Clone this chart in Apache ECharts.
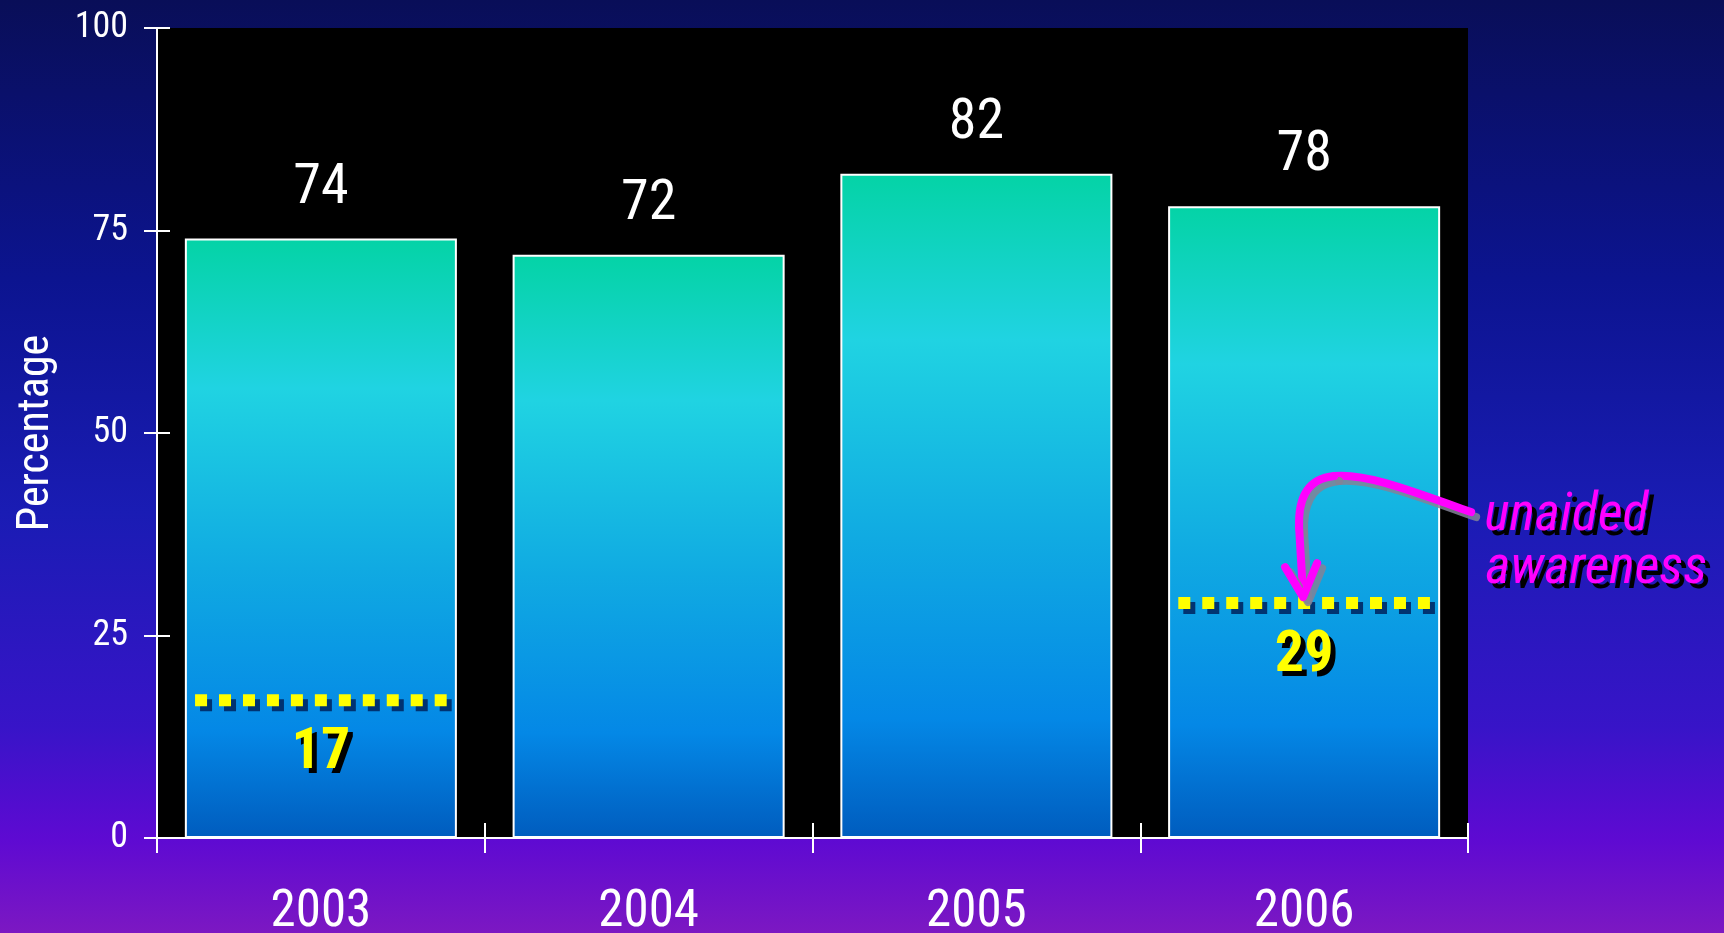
<!DOCTYPE html>
<html>
<head>
<meta charset="utf-8">
<script src="https://cdn.jsdelivr.net/npm/echarts@6/dist/echarts.min.js"></script>
<style>
html,body{margin:0;padding:0;width:1724px;height:933px;overflow:hidden;}
#c{width:1724px;height:933px;}
</style>
</head>
<body>
<div id="c"></div>
<script>
// ---- data ----
const categories = ['2003', '2004', '2005', '2006'];
const totalAwareness = [74, 72, 82, 78];
const unaidedCategory = [0, 3];
const unaidedValues = [17, 29];
const yTicks = [0, 25, 50, 75, 100];
const yAxisName = 'Percentage';
const annotationLines = ['unaided', 'awareness'];

const FONT = "'Noto Sans ExtraCondensed', 'Noto Sans Condensed', 'Roboto Condensed', 'DejaVu Sans Condensed', sans-serif";
const unaidedData = unaidedCategory.map((c, i) => [c, unaidedValues[i]]);

const chart = echarts.init(document.getElementById('c'), null, {renderer: 'canvas'});

const bg = new echarts.graphic.LinearGradient(0, 0, 0, 1, [
  {offset: 0, color: '#090e58'},
  {offset: 0.3, color: '#0c1490'},
  {offset: 0.55, color: '#1a1cb4'},
  {offset: 0.78, color: '#3814c8'},
  {offset: 0.9, color: '#5e0ad2'},
  {offset: 1, color: '#7c18c2'}
]);

const barGrad = new echarts.graphic.LinearGradient(0, 0, 0, 1, [
  {offset: 0, color: '#04d3a6'},
  {offset: 0.25, color: '#20d3e2'},
  {offset: 0.55, color: '#10aae2'},
  {offset: 0.82, color: '#0488e6'},
  {offset: 1, color: '#005cbe'}
]);

const yMin = yTicks[0], yMax = yTicks[yTicks.length - 1], yInt = yTicks[1] - yTicks[0];

function renderDots(params, api) {
  const c = api.value(0), v = api.value(1);
  const p = api.coord([c, v]);
  const bw = api.size([1, 0])[0];
  const barW = bw * 0.83;
  const L = barW * 0.925;
  const s = 12;
  const g = (L - 11 * s) / 10;
  const ty = p[1] + 53;
  return {
    type: 'group',
    children: [
      {type: 'line', shape: {x1: p[0] - L / 2, y1: p[1], x2: p[0] + L / 2, y2: p[1]},
       style: {stroke: '#ffff00', lineWidth: 12, lineDash: [s, g], lineCap: 'butt',
               shadowColor: 'rgba(0,40,100,0.9)', shadowOffsetX: 5, shadowOffsetY: 5, shadowBlur: 0}},
      {type: 'text', x: p[0] + 5, y: ty + 5,
       style: {text: String(v), fill: '#000000', fontSize: 58, fontWeight: 'bold', fontFamily: FONT,
               align: 'center', verticalAlign: 'middle'}},
      {type: 'text', x: p[0], y: ty,
       style: {text: String(v), fill: '#ffff00', fontSize: 58, fontWeight: 'bold', fontFamily: FONT,
               align: 'center', verticalAlign: 'middle'}}
    ]
  };
}

const option = {
  backgroundColor: bg,
  animation: false,
  grid: {left: 157, right: 256, top: 28, bottom: 95, show: true, backgroundColor: '#000000', borderWidth: 0,
         containLabel: false, outerBoundsMode: 'none'},
  xAxis: [{
    type: 'category', data: categories,
    axisLine: {lineStyle: {color: '#ffffff', width: 2}},
    axisTick: {show: true, length: 15, lineStyle: {color: '#ffffff', width: 2}},
    axisLabel: {color: '#ffffff', fontSize: 51, fontFamily: FONT, margin: 50},
    splitLine: {show: false}
  }, {
    type: 'category', data: categories, position: 'bottom',
    axisLine: {show: false},
    axisTick: {show: true, inside: true, length: 15, lineStyle: {color: '#ffffff', width: 2}},
    axisLabel: {show: false},
    splitLine: {show: false}
  }],
  yAxis: [{
    type: 'value', min: yMin, max: yMax, interval: yInt,
    name: yAxisName, nameLocation: 'middle', nameGap: 98, nameRotate: 90,
    nameTextStyle: {color: '#ffffff', fontSize: 44, fontFamily: FONT},
    axisLine: {show: true, lineStyle: {color: '#ffffff', width: 2}},
    axisTick: {show: true, length: 13, lineStyle: {color: '#ffffff', width: 2}},
    axisLabel: {color: '#ffffff', fontSize: 36, fontFamily: FONT, margin: 29},
    splitLine: {show: false}
  }, {
    type: 'value', min: yMin, max: yMax, interval: yInt, position: 'left',
    axisLine: {show: false},
    axisTick: {show: true, inside: true, length: 13, lineStyle: {color: '#ffffff', width: 2}},
    axisLabel: {show: false},
    splitLine: {show: false}
  }],
  series: [{
    type: 'bar', data: totalAwareness, barCategoryGap: '17%',
    itemStyle: {color: barGrad, borderColor: '#ffffff', borderWidth: 2},
    label: {show: true, position: 'top', distance: 22, color: '#ffffff', fontSize: 56, fontFamily: FONT}
  }, {
    type: 'custom', data: unaidedData, renderItem: renderDots, z: 5,
    encode: {x: 0, y: 1}
  }]
};

chart.setOption(option);

// annotation arrow + text anchored to the 2006 unaided point
const last = unaidedData[unaidedData.length - 1];
const P = chart.convertToPixel({xAxisIndex: 0, yAxisIndex: 0}, last);
const px = P[0], py = P[1];
const arrowStyle = {stroke: '#ff00ff', lineWidth: 8, fill: null, lineCap: 'round', lineJoin: 'round',
  shadowColor: 'rgba(130,130,150,0.85)', shadowOffsetX: 5, shadowOffsetY: 5, shadowBlur: 0};
const textBase = {fontSize: 54, fontStyle: 'italic', fontFamily: FONT, align: 'left', verticalAlign: 'top'};
chart.setOption({
  graphic: [
    {type: 'bezierCurve', shape: {x1: px + 167, y1: py - 91, cpx1: px + 100, cpy1: py - 115,
      cpx2: px + 60, cpy2: py - 130, x2: px + 30, y2: py - 127}, style: arrowStyle, z: 10},
    {type: 'bezierCurve', shape: {x1: px + 30, y1: py - 127, cpx1: px + 0, cpy1: py - 124,
      cpx2: px - 6, cpy2: py - 100, x2: px - 5, y2: py - 75}, style: arrowStyle, z: 10},
    {type: 'line', shape: {x1: px - 5, y1: py - 75, x2: px - 1, y2: py - 8}, style: arrowStyle, z: 10},
    {type: 'polyline', shape: {points: [[px - 19, py - 36], [px - 1, py - 6], [px + 13, py - 40]]}, style: arrowStyle, z: 10},
    {type: 'text', x: px + 185, y: py - 109, style: Object.assign({text: annotationLines[0], fill: '#000000'}, textBase), z: 10},
    {type: 'text', x: px + 180, y: py - 114, style: Object.assign({text: annotationLines[0], fill: '#ff00ff'}, textBase), z: 11},
    {type: 'text', x: px + 186, y: py - 56, style: Object.assign({text: annotationLines[1], fill: '#000000'}, textBase), z: 10},
    {type: 'text', x: px + 181, y: py - 61, style: Object.assign({text: annotationLines[1], fill: '#ff00ff'}, textBase), z: 11}
  ]
});
</script>
</body>
</html>
